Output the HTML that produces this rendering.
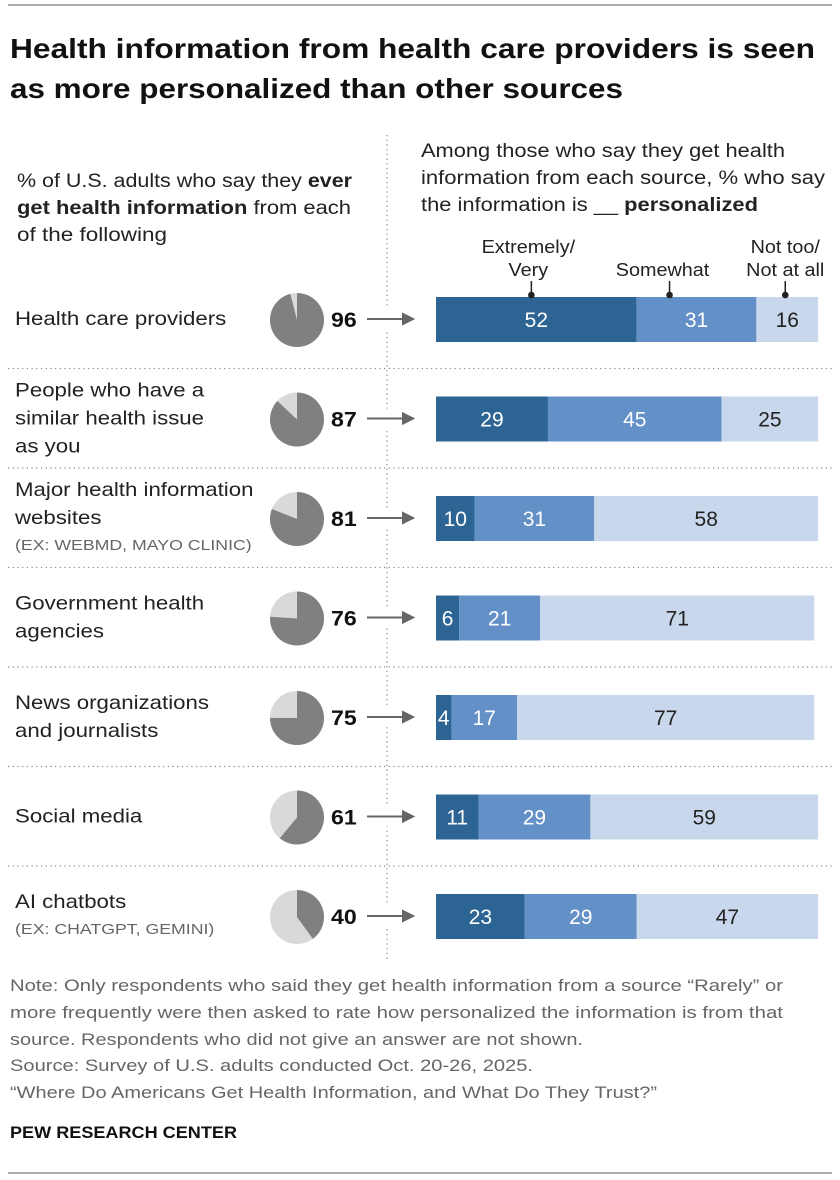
<!DOCTYPE html>
<html><head><meta charset="utf-8"><style>
body{margin:0;background:#fff;}
svg{display:block;font-family:"Liberation Sans",sans-serif;}
</style></head><body>
<svg id="c" width="840" height="1180" xmlns="http://www.w3.org/2000/svg">
<line x1="8" y1="5" x2="832" y2="5" stroke="#777" stroke-width="1.2"/>
<text x="10" y="58" font-size="28" font-weight="bold" fill="#111" textLength="805" lengthAdjust="spacingAndGlyphs">Health information from health care providers is seen</text>
<text x="10" y="98" font-size="28" font-weight="bold" fill="#111" textLength="613" lengthAdjust="spacingAndGlyphs">as more personalized than other sources</text>
<g font-size="19" fill="#222" lengthAdjust="spacingAndGlyphs">
<text x="17" y="187" textLength="335" lengthAdjust="spacingAndGlyphs">% of U.S. adults who say they <tspan font-weight="bold">ever</tspan></text>
<text x="17" y="214" textLength="334" lengthAdjust="spacingAndGlyphs"><tspan font-weight="bold">get health information</tspan> from each</text>
<text x="17" y="241" textLength="150" lengthAdjust="spacingAndGlyphs">of the following</text>
</g>
<g font-size="19" fill="#222">
<text x="421" y="157" textLength="364" lengthAdjust="spacingAndGlyphs">Among those who say they get health</text>
<text x="421" y="184" textLength="404" lengthAdjust="spacingAndGlyphs">information from each source, % who say</text>
<text x="421" y="211" textLength="337" lengthAdjust="spacingAndGlyphs">the information is __ <tspan font-weight="bold">personalized</tspan></text>
</g>
<g id="vlines"></g>
<g id="rows"></g>
<g font-size="17" fill="#666">
<text x="10" y="991" textLength="773" lengthAdjust="spacingAndGlyphs">Note: Only respondents who said they get health information from a source “Rarely” or</text>
<text x="10" y="1018" textLength="773" lengthAdjust="spacingAndGlyphs">more frequently were then asked to rate how personalized the information is from that</text>
<text x="10" y="1045" textLength="573" lengthAdjust="spacingAndGlyphs">source. Respondents who did not give an answer are not shown.</text>
<text x="10" y="1071" textLength="523" lengthAdjust="spacingAndGlyphs">Source: Survey of U.S. adults conducted Oct. 20-26, 2025.</text>
<text x="10" y="1098" textLength="647" lengthAdjust="spacingAndGlyphs">“Where Do Americans Get Health Information, and What Do They Trust?”</text>
</g>
<text x="10" y="1138" font-size="17" font-weight="bold" fill="#111" textLength="227" lengthAdjust="spacingAndGlyphs">PEW RESEARCH CENTER</text>
<line x1="8" y1="1173" x2="832" y2="1173" stroke="#777" stroke-width="1.2"/>
</svg>
<script>
const categories=["Health care providers","People who have a|similar health issue|as you","Major health information|websites","Government health|agencies","News organizations|and journalists","Social media","AI chatbots"];
const notes=["","","(EX: WEBMD, MAYO CLINIC)","","","","(EX: CHATGPT, GEMINI)"];
const everGet=[96,87,81,76,75,61,40];
const veryVals=[52,29,10,6,4,11,23];
const somewhatVals=[31,45,31,21,17,29,29];
const notVals=[16,25,58,71,77,59,47];
const legendLabels=["Extremely/|Very","Somewhat","Not too/|Not at all"];
const NS="http://www.w3.org/2000/svg";
const svg=document.getElementById('c');
const rowsG=document.getElementById('rows');
const X0=436, SCALE=3.86;
const xScale=v=>X0+v*SCALE;
const rowY=i=>319+i*99.5;
function mk(tag,attrs,parent){const e=document.createElementNS(NS,tag);for(const k in attrs)e.setAttribute(k,attrs[k]);parent.appendChild(e);return e;}
function widen(t,f){const w=t.getComputedTextLength();t.setAttribute('textLength',w*f);t.setAttribute('lengthAdjust','spacingAndGlyphs');}
const vl=mk('line',{x1:387,y1:135,x2:387,y2:962,stroke:'#888','stroke-width':1.2,'stroke-dasharray':'1.2 3.5'},document.getElementById('vlines'));


const colors=["#2c6593","#6490c8","#c8d7eb"];
categories.forEach((cat,i)=>{
  const cy=rowY(i);
  const g=mk('g',{},rowsG);
  
  
  if(i>0){const s=mk('line',{x1:8,y1:cy-50,x2:832,y2:cy-50,stroke:'#888','stroke-width':1.2,'stroke-dasharray':'1.2 3.5'},g);
    
    }
  const lines=cat.split('|');
  const n=lines.length+(notes[i]?1:0);
  let y0=cy+6-(n-1)*14;
  lines.forEach((l,k)=>{const t=mk('text',{x:15,y:y0+k*28,'font-size':19.5,fill:'#222'},g);t.textContent=l;
    
    
    widen(t,1.14);});
  if(notes[i]){const t=mk('text',{x:15,y:y0+lines.length*28-2,'font-size':15,fill:'#666'},g);t.textContent=notes[i];
    
    
    widen(t,1.18);}
  const px=297,py=cy+1,r=27;
  const bg=mk('circle',{cx:px,cy:py,r:r,fill:'#d9d9d9'},g);
  
  
  const a=everGet[i]/100*2*Math.PI;
  const ex=px+r*Math.sin(a),ey=py-r*Math.cos(a);
  const p=mk('path',{d:`M${px},${py} L${px},${py-r} A${r},${r} 0 ${a>Math.PI?1:0} 1 ${ex},${ey} Z`,fill:'#808080'},g);
  
  
  const vt=mk('text',{x:331,y:cy+8,'font-size':21,'font-weight':'bold',fill:'#111'},g);vt.textContent=everGet[i];
  
  
  widen(vt,1.1);
  const gap=mk('rect',{x:383,y:cy-10,width:8,height:20,fill:'#fff'},g);
  
  
  const ar=mk('path',{d:`M367,${cy} L409,${cy} M403,${cy-5} L413,${cy} L403,${cy+5} Z`,stroke:'#666','stroke-width':2,fill:'#666'},g);
  
  
  const vals=[veryVals[i],somewhatVals[i],notVals[i]];
  let acc=0;
  vals.forEach((v,k)=>{
    const x=xScale(acc),w=v*SCALE;
    const b=mk('rect',{x:x,y:cy-22,width:w,height:45,fill:colors[k]},g);
    
    
    const t=mk('text',{x:x+w/2,y:cy+8,'font-size':21,'text-anchor':'middle',fill:k<2?'#fff':'#222'},g);
    t.textContent=v;
    
    
    if(i===0){
      const lx=x+w/2+([-5,-27,-2][k]);
      const tx=lx+[-3,-7,0][k];
      const ls=legendLabels[k].split('|');
      const lg=mk('g',{},g);
      
      
      ls.forEach((l,j)=>{const tt=mk('text',{x:tx,y:cy-43-(ls.length-1-j)*23,'font-size':18,'text-anchor':'middle',fill:'#222'},lg);tt.textContent=l;widen(tt,1.1);});
      mk('line',{x1:lx,y1:cy-38,x2:lx,y2:cy-24,stroke:'#222','stroke-width':1.5},lg);
      mk('circle',{cx:lx,cy:cy-24,r:3.3,fill:'#222'},lg);
    }
    acc+=v;
  });
});
</script>
</body></html>
